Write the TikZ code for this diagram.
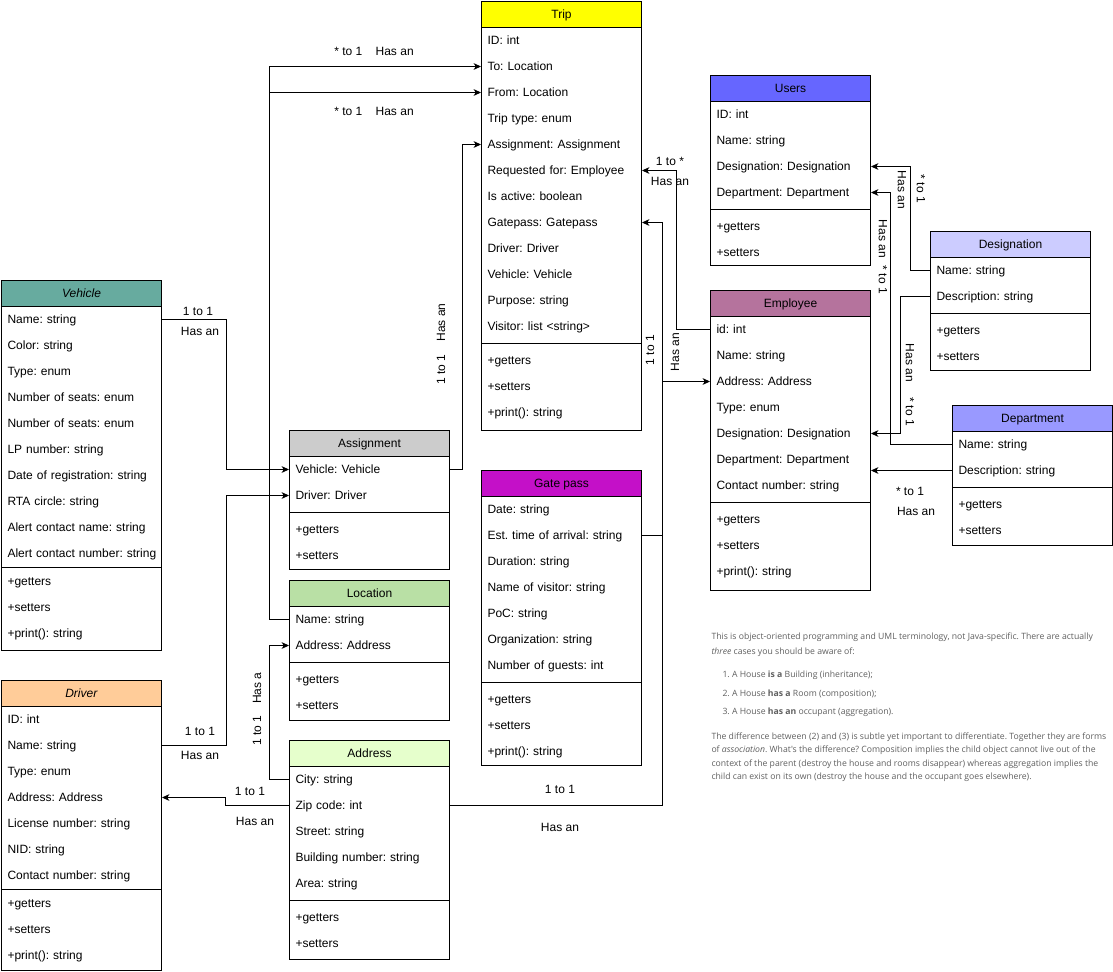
\documentclass[tikz,border=0pt]{standalone}
\usepackage{fontspec}
\setmainfont{Liberation Sans}
\newfontfamily\notefont{Open Sans}
\usetikzlibrary{arrows.meta}

\definecolor{tripfill}{HTML}{FFFF00}
\definecolor{usersfill}{HTML}{6666FF}
\definecolor{designationfill}{HTML}{CCCCFF}
\definecolor{employeefill}{HTML}{B5739D}
\definecolor{departmentfill}{HTML}{9999FF}
\definecolor{vehiclefill}{HTML}{67AB9F}
\definecolor{driverfill}{HTML}{FFCC99}
\definecolor{assignmentfill}{HTML}{CCCCCC}
\definecolor{locationfill}{HTML}{B9E0A5}
\definecolor{addressfill}{HTML}{E6FFCC}
\definecolor{gatepassfill}{HTML}{C410C8}
\definecolor{notegray}{HTML}{606060}

% one UML class: name, left, top, header colour, title, attributes, methods, gap, height
\newcommand{\umlclass}[9]{%
    \node (#1) [classhead, fill=#4] at (#2,#3) {#5};
    \foreach \row [count=\i] in {#6} {
        \node (#1-\i) [classrow] at (#2,#3+26*\i) {\mbox{\row}};
        \xdef\nrows{\i}
    }
    \draw (#2,#3+26+26*\nrows+#8/2) -- ++(160,0);
    \foreach \op [count=\j] in {#7} {
        \node (#1-m\j) [classrow] at (#2,#3+26*\nrows+#8+26*\j) {\mbox{\op}};
    }
    \draw [classbox] (#2,#3) rectangle ++(160,#9);
}

\begin{document}
\frenchspacing
\begin{tikzpicture}[x=0.75pt, y=-0.75pt, line width=0.75pt]
    % Define styles for class boxes, rows and arrows
    \tikzstyle{classhead} = [rectangle, draw=black, anchor=north west, minimum width=120pt, minimum height=19.5pt, inner sep=0pt, text height=7.5pt, text depth=2pt, font=\fontsize{9}{10}\selectfont]
    \tikzstyle{classrow} = [rectangle, anchor=north west, minimum height=19.5pt, text width=111pt, inner xsep=4.5pt, inner ysep=0pt, align=left, text height=7.5pt, text depth=2pt, font=\fontsize{9}{10}\selectfont]
    \tikzstyle{classbox} = [draw=black, line width=0.75pt]
    \tikzstyle{relation} = [inner sep=0pt, font=\fontsize{9}{10}\selectfont]
    \tikzstyle{note} = [anchor=west, inner sep=0pt, text=notegray, font=\notefont\fontsize{6.5}{7.5}\selectfont]
    \tikzstyle{arrow} = [line width=0.75pt, -{Stealth[length=5.5pt, width=5pt, inset=1.5pt]}]

    \path [fill=white, use as bounding box] (0,0) rectangle (1113,971);

    % Classes
    \umlclass{trip}{481}{1}{tripfill}{Trip}{ID: int, To: Location, From: Location, Trip type: enum, Assignment: Assignment, Requested for: Employee, Is active: boolean, Gatepass: Gatepass, Driver: Driver, Vehicle: Vehicle, Purpose: string, Visitor: list <string>}{+getters, +setters, +print(): string}{8}{429}
    \umlclass{users}{710}{75}{usersfill}{Users}{ID: int, Name: string, Designation: Designation, Department: Department}{+getters, +setters}{8}{190}
    \umlclass{desig}{930}{231}{designationfill}{Designation}{Name: string, Description: string}{+getters, +setters}{8}{139}
    \umlclass{emp}{710}{290}{employeefill}{Employee}{id: int, Name: string, Address: Address, Type: enum, Designation: Designation, Department: Department, Contact number: string}{+getters, +setters, +print(): string}{8}{300}
    \umlclass{dept}{952}{405}{departmentfill}{Department}{Name: string, Description: string}{+getters, +setters}{8}{140}
    \umlclass{veh}{1}{280}{vehiclefill}{\textit{Vehicle}}{Name: string, Color: string, Type: enum, Number of seats: enum, Number of seats: enum, LP number: string, Date of registration: string, RTA circle: string, Alert contact name: string, Alert contact number: string}{+getters, +setters, +print(): string}{2}{370}
    \umlclass{drv}{1}{680}{driverfill}{\textit{Driver}}{ID: int, Name: string, Type: enum, Address: Address, License number: string, NID: string, Contact number: string}{+getters, +setters, +print(): string}{2}{290}
    \umlclass{asg}{289}{430}{assignmentfill}{Assignment}{Vehicle: Vehicle, Driver: Driver}{+getters, +setters}{8}{139}
    \umlclass{loc}{289}{580}{locationfill}{Location}{Name: string, Address: Address}{+getters, +setters}{8}{140}
    \umlclass{addr}{289}{740}{addressfill}{Address}{City: string, Zip code: int, Street: string, Building number: string, Area: string}{+getters, +setters}{8}{219}
    \umlclass{gate}{481}{470}{gatepassfill}{Gate pass}{Date: string, Est. time of arrival: string, Duration: string, Name of visitor: string, PoC: string, Organization: string, Number of guests: int}{+getters, +setters, +print(): string}{8}{295}

    % Arrows (relations)
    \draw [arrow] (loc-1.west) -- ++(-20,0) |- (trip-2.west);
    \draw [arrow] (loc-1.west) -- ++(-20,0) |- (trip-3.west);
    \draw [arrow] (veh-1.east) -- ++(64,0) |- (asg-1.west);
    \draw [arrow] (drv-2.east) -- ++(64,0) |- (asg-2.west);
    \draw [arrow] (asg-1.east) -- ++(12,0) |- (trip-5.west);
    \draw [arrow] (addr-1.west) -- ++(-20,0) |- (loc-2.west);
    \draw [arrow] (addr-2.west) -- ++(-64,0) |- (drv-4.east);
    \draw [arrow] (addr-2.east) -- ++(212,0) |- (emp-3.west);
    \draw [arrow] (gate-2.east) -- ++(20,0) |- (trip-8.east);
    \draw [arrow] (emp-1.west) -- ++(-34,0) |- (trip-6.east);
    \draw [arrow] (desig-1.west) -- ++(-20,0) |- (users-3.east);
    \draw [arrow] (dept-1.west) -- ++(-62,0) |- (users-4.east);
    \draw [arrow] (desig-2.west) -- ++(-30,0) |- (emp-5.east);
    \draw [arrow] (dept-2.west) -- (dept-2.west -| emp-6.east);

    % Relation labels
    \node (tolbl) [relation] at (374,51) {* to 1\hspace{10pt}Has an};
    \node (fromlbl) [relation] at (374,111) {* to 1\hspace{10pt}Has an};
    \node (vehlbla) [relation] at (198,311) {1 to 1};
    \node (vehlblb) [relation] at (200,331) {Has an};
    \node (drvlbla) [relation] at (200,731) {1 to 1};
    \node (drvlblb) [relation] at (200,755) {Has an};
    \node (asglbl) [relation, rotate=90] at (441,344) {1 to 1\hspace{10pt}Has an};
    \node (loclbl) [relation, rotate=90] at (257,709) {1 to 1\hspace{9pt}Has a};
    \node (addrlbla) [relation] at (250,791) {1 to 1};
    \node (addrlblb) [relation] at (255,821) {Has an};
    \node (emplbla) [relation] at (560,789) {1 to 1};
    \node (emplblb) [relation] at (560,827) {Has an};
    \node (gatelbl) [relation, rotate=90] at (650,350) {1 to 1};
    \node (emplblc) [relation, rotate=90] at (675,352) {Has an};
    \node (reqlbla) [relation] at (670,161) {1 to *};
    \node (reqlblb) [relation] at (670,181) {Has an};
    \node (desiglbla) [relation, rotate=-90] at (921,189) {* to 1};
    \node (desiglblb) [relation, rotate=-90] at (902,190) {Has an};
    \node (deptlbl) [relation, rotate=-90] at (883,257) {Has an\hspace{6pt}* to 1};
    \node (desiglblc) [relation, rotate=-90] at (910,385) {Has an\hspace{12pt}* to 1};
    \node (deptlbla) [relation] at (910,491) {* to 1};
    \node (deptlblb) [relation] at (916,511) {Has an};

    % Note text
    \node (note1) [note] at (711,637) {This is object-oriented programming and UML terminology, not Java-specific. There are actually};
    \node (note2) [note] at (711,652) {\textit{three} cases you should be aware of:};
    \node (note3) [note] at (722,675) {1. A House \textbf{is a} Building (inheritance);};
    \node (note4) [note] at (722,694) {2. A House \textbf{has a} Room (composition);};
    \node (note5) [note] at (722,712) {3. A House \textbf{has an} occupant (aggregation).};
    \node (note6) [note] at (711,737) {The difference between (2) and (3) is subtle yet important to differentiate. Together they are forms};
    \node (note7) [note] at (711,750) {of \textit{association}. What's the difference? Composition implies the child object cannot live out of the};
    \node (note8) [note] at (711,764) {context of the parent (destroy the house and rooms disappear) whereas aggregation implies the};
    \node (note9) [note] at (711,777) {child can exist on its own (destroy the house and the occupant goes elsewhere).};
\end{tikzpicture}
\end{document}
